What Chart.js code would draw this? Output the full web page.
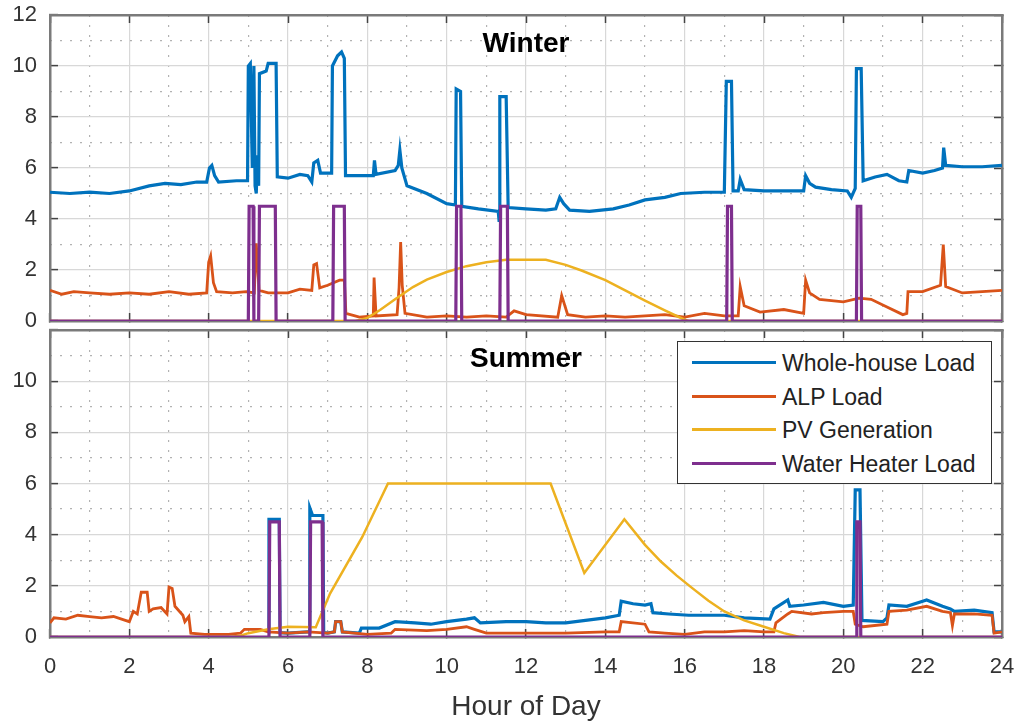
<!DOCTYPE html>
<html>
<head>
<meta charset="utf-8">
<title>Winter / Summer load profiles</title>
<script src="https://cdn.jsdelivr.net/npm/chart.js@4.4.1/dist/chart.umd.min.js"></script>
<style>
  body { margin: 0; background: #fff; font-family: "Liberation Sans", Arial, sans-serif; }
  #wrap { position: relative; width: 1021px; height: 723px; }
  .layer { position: absolute; left: 0; top: 0; width: 1021px; height: 723px; }
  .panelTitle { position: absolute; left: 426px; width: 200px; text-align: center;
    font-weight: bold; font-size: 28px; line-height: 32px; color: #000; }
  #legend { position: absolute; left: 677px; top: 341px; width: 313px; height: 141px;
    border: 1.8px solid #333; background: #fff; }
  .row { position: absolute; left: 0; height: 30px; line-height: 30px; font-size: 23px; color: #222; white-space: nowrap; }
  .row .swatch { position: absolute; left: 14px; top: 13px; width: 84px; height: 0; border-top: 3px solid; }
  .row .txt { position: absolute; left: 104px; top: 0; }
</style>
</head>
<body>
<div id="wrap">
  <div class="layer"><canvas id="summerChart"></canvas></div>
  <div class="layer"><canvas id="winterChart"></canvas></div>
  <div class="panelTitle" style="top:27px">Winter</div>
  <div class="panelTitle" style="top:342px">Summer</div>
  <div id="legend"></div>
</div>
<script>
// series names / colours (MATLAB default order)
const seriesNames = ["Whole-house Load", "ALP Load", "PV Generation", "Water Heater Load"];
const seriesColors = ["#0072BD", "#D95319", "#EDB120", "#7E2F8E"];

const xTicks = [0, 2, 4, 6, 8, 10, 12, 14, 16, 18, 20, 22, 24];
const yTicks = [0, 2, 4, 6, 8, 10, 12];

// ---------- Winter (hour, kW) ----------
const winterHouse = [[0,5.05],[0.5,5.0],[1,5.05],[1.5,5.0],[2,5.1],[2.5,5.3],[2.9,5.4],[3.3,5.35],[3.7,5.45],[3.95,5.45],
  [4.02,6.0],[4.08,6.1],[4.15,5.7],[4.25,5.45],[4.7,5.5],[4.98,5.5],[5.0,10.0],[5.05,10.1],[5.1,6.0],[5.14,10.0],
  [5.17,5.3],[5.2,5.0],[5.23,6.5],[5.26,5.3],[5.28,9.7],[5.45,9.8],[5.5,10.1],[5.7,10.1],[5.73,5.65],[6.0,5.6],
  [6.3,5.75],[6.5,5.7],[6.6,5.45],[6.65,6.2],[6.75,6.3],[6.82,5.8],[7.1,5.8],[7.12,10.0],[7.25,10.4],[7.35,10.55],
  [7.42,10.3],[7.45,5.7],[7.8,5.7],[8.15,5.7],[8.18,6.3],[8.22,5.75],[8.7,5.9],[8.78,6.1],[8.82,6.7],[8.87,6.0],
  [9.0,5.3],[9.5,5.0],[10.0,4.6],[10.22,4.55],[10.24,9.1],[10.35,9.0],[10.38,4.5],[10.8,4.4],[11.3,4.3],[11.32,3.95],
  [11.34,8.8],[11.5,8.8],[11.55,4.45],[12.0,4.4],[12.5,4.35],[12.75,4.4],[12.85,4.85],[12.95,4.6],[13.1,4.35],[13.6,4.3],
  [14.2,4.4],[14.6,4.55],[15.0,4.75],[15.5,4.85],[15.9,5.0],[16.5,5.05],[17.0,5.05],[17.05,9.4],[17.18,9.4],[17.22,5.1],
  [17.35,5.1],[17.4,5.55],[17.5,5.15],[18.0,5.1],[18.6,5.1],[19.0,5.1],[19.05,5.7],[19.15,5.4],[19.3,5.25],[19.7,5.15],
  [20.1,5.1],[20.2,4.85],[20.3,5.2],[20.33,9.9],[20.45,9.9],[20.5,5.5],[20.8,5.65],[21.1,5.75],[21.4,5.5],[21.6,5.45],
  [21.65,5.9],[22.0,5.8],[22.3,5.9],[22.5,6.0],[22.53,6.8],[22.58,6.1],[23.0,6.05],[23.5,6.05],[24,6.1]];

const winterAlp = [[0,1.2],[0.3,1.05],[0.6,1.15],[1.0,1.1],[1.5,1.05],[2.0,1.1],[2.5,1.05],[3.0,1.15],[3.5,1.05],[3.95,1.1],
  [4.0,2.3],[4.05,2.55],[4.12,1.5],[4.2,1.15],[4.6,1.1],[4.95,1.15],[5.15,1.1],[5.2,3.05],[5.27,1.2],[5.5,1.1],
  [6.0,1.1],[6.3,1.25],[6.6,1.2],[6.65,2.2],[6.72,2.25],[6.8,1.3],[7.0,1.4],[7.3,1.6],[7.42,1.6],[7.46,0.3],
  [7.8,0.15],[8.15,0.2],[8.17,1.7],[8.22,0.2],[8.75,0.25],[8.8,1.3],[8.84,3.1],[8.88,1.4],[8.95,0.3],[9.5,0.15],
  [10.0,0.2],[10.5,0.15],[11.0,0.2],[11.5,0.15],[11.7,0.4],[12.0,0.25],[12.8,0.15],[12.9,1.0],[13.05,0.25],[13.5,0.15],
  [14.0,0.2],[14.5,0.15],[15.0,0.2],[15.5,0.25],[16.0,0.15],[16.5,0.3],[17.0,0.2],[17.35,0.2],[17.4,1.35],[17.5,0.6],
  [17.9,0.35],[18.5,0.45],[19.0,0.3],[19.05,1.6],[19.15,1.1],[19.4,0.85],[20.0,0.75],[20.4,0.9],[20.7,0.85],[21.1,0.55],
  [21.5,0.25],[21.6,0.3],[21.63,1.15],[22.0,1.15],[22.45,1.4],[22.52,3.0],[22.58,1.35],[23.0,1.1],[23.5,1.15],[24,1.2]];

const winterPv = [[0,0],[7.7,0],[8.0,0.12],[8.32,0.43],[8.7,0.85],[9.15,1.33],[9.5,1.62],[10.0,1.92],[10.5,2.15],[11.0,2.3],
  [11.5,2.4],[12.5,2.4],[13.0,2.2],[13.4,1.98],[14.0,1.6],[14.5,1.2],[15.0,0.8],[15.5,0.42],[16.0,0.05],[16.1,0],[24,0]];

const winterWh = [[0,0],[5.0,0],[5.02,4.5],[5.12,4.5],[5.14,0],[5.26,0],[5.28,4.5],[5.68,4.5],[5.7,0],[7.13,0],
  [7.15,4.5],[7.42,4.5],[7.44,0],[10.23,0],[10.25,4.5],[10.36,4.5],[10.38,0],[11.34,0],[11.36,4.5],[11.53,4.5],
  [11.55,0],[17.06,0],[17.08,4.5],[17.18,4.5],[17.2,0],[20.33,0],[20.35,4.5],[20.44,4.5],[20.46,0],[24,0]];

// ---------- Summer (hour, kW) ----------
const summerHouse = [[5.5,0.2],[5.52,4.6],[5.78,4.6],[5.8,0.17],[6.0,0.15],[6.5,0.2],[6.53,0.2],[6.55,5.05],[6.62,4.75],[6.88,4.75],
  [6.9,0.17],[7.0,0.15],[7.17,0.2],[7.2,0.6],[7.33,0.6],[7.37,0.2],[7.8,0.15],[7.85,0.35],[8.3,0.35],[8.7,0.6],
  [9.2,0.55],[9.6,0.5],[10.0,0.6],[10.5,0.7],[10.7,0.75],[10.85,0.55],[11.5,0.6],[12.0,0.6],[12.5,0.55],[13.0,0.55],
  [13.5,0.65],[14.0,0.75],[14.35,0.85],[14.4,1.4],[14.7,1.3],[15.0,1.25],[15.15,1.3],[15.2,0.95],[15.6,0.9],[16.1,0.85],
  [16.6,0.85],[17.0,0.85],[17.5,0.75],[18.15,0.7],[18.25,1.1],[18.6,1.45],[18.65,1.2],[19.0,1.25],[19.5,1.35],[20.0,1.2],
  [20.25,1.25],[20.3,5.75],[20.42,5.75],[20.47,0.65],[21.0,0.6],[21.1,0.75],[21.15,1.25],[21.6,1.2],[22.0,1.4],[22.1,1.45],
  [22.5,1.2],[22.7,1.1],[22.8,1.0],[23.3,1.05],[23.75,0.95],[23.8,0.2],[24,0.2]];

const summerAlp = [[0,0.55],[0.1,0.75],[0.4,0.7],[0.7,0.85],[1.0,0.8],[1.3,0.75],[1.6,0.8],[1.9,0.65],[2.0,0.6],[2.1,1.0],
  [2.2,0.9],[2.3,1.75],[2.45,1.75],[2.5,1.0],[2.6,1.1],[2.8,1.15],[2.95,0.9],[3.0,1.95],[3.08,1.9],[3.15,1.2],
  [3.35,0.85],[3.4,0.6],[3.5,0.8],[3.55,0.15],[3.9,0.1],[4.5,0.1],[4.8,0.15],[4.9,0.3],[5.3,0.3],[5.5,0.2],
  [6.0,0.15],[6.5,0.2],[7.0,0.15],[7.17,0.2],[7.2,0.6],[7.33,0.6],[7.37,0.2],[8.0,0.1],[8.6,0.15],[8.7,0.3],
  [9.5,0.25],[10.0,0.3],[10.5,0.4],[10.7,0.3],[11.0,0.15],[12.0,0.15],[13.0,0.15],[14.0,0.2],[14.35,0.2],[14.4,0.6],
  [15.0,0.5],[15.1,0.2],[15.5,0.15],[16.0,0.1],[16.5,0.2],[17.0,0.2],[17.5,0.25],[18.0,0.2],[18.25,0.2],[18.3,0.55],
  [18.6,0.9],[18.7,1.0],[19.2,0.9],[19.5,0.95],[20.0,1.0],[20.25,1.0],[20.3,0.5],[20.5,0.4],[21.1,0.5],[21.15,1.0],
  [21.6,1.05],[22.1,1.2],[22.5,1.0],[22.7,0.95],[22.75,0.45],[22.8,0.9],[23.3,0.9],[23.75,0.85],[23.8,0.15],[24,0.2]];

const summerPv = [[0,0],[4.5,0],[4.8,0.05],[5.0,0.15],[5.5,0.3],[6.0,0.4],[6.7,0.38],[7.06,1.7],[7.87,3.9],[8.52,6.0],
  [12.62,6.0],[13.47,2.5],[14.48,4.6],[15.0,3.6],[15.4,2.95],[15.8,2.4],[16.2,1.9],[16.6,1.42],[17.0,1.0],[17.5,0.65],
  [18.0,0.4],[18.5,0.15],[18.9,0.0],[24,0]];

const summerWh = [[0,0],[5.52,0],[5.54,4.5],[5.78,4.5],[5.8,0],[6.55,0],[6.57,4.5],[6.86,4.5],[6.88,0],[20.32,0],
  [20.34,4.5],[20.42,4.5],[20.44,0],[24,0]];

Chart.defaults.font.family = "'Liberation Sans', Arial, sans-serif";
Chart.defaults.animation = false;

const AXIS_GREY = '#7a7a7a';
const TICK_DARK = '#444';

function toPts(arr) {
    return arr.map(p => ({ x: p[0], y: p[1] }));
}

function makeDatasets(house, alp, pv, wh) {
    const widths = [3.2, 2.8, 2.5, 3.2];
    return [house, alp, pv, wh].map((d, i) => ({
        label: seriesNames[i],
        data: toPts(d),
        borderColor: seriesColors[i],
        backgroundColor: seriesColors[i],
        borderWidth: widths[i],
        pointRadius: 0,
        tension: 0,
        fill: false,
        order: 4 - i   // purple drawn last (on top)
    }));
}

// keep label overflow from shrinking the plot area
function fixX(h) {
    return s => { s.height = h; s.paddingLeft = 0; s.paddingRight = 0; };
}
function fixY(w) {
    return s => { s.width = w; s.paddingTop = 0; s.paddingBottom = 0; };
}

function makeScales(isBottom) {
    const tickCb = arr => function (v) { return arr.includes(v) ? String(v) : ''; };
    const minorColor = c => (c.tick && c.tick.value % 2 === 1) ? 'rgba(0,0,0,0.3)' : 'rgba(0,0,0,0)';
    return {
        x: {
            type: 'linear', position: 'bottom', min: 0, max: 24,
            afterBuildTicks: s => { s.ticks = xTicks.map(v => ({ value: v })); },
            ticks: { display: isBottom, autoSkip: false, maxRotation: 0, padding: 25, color: '#333', font: { size: 22 } },
            grid: { color: '#d8d8d8', lineWidth: 1.2, tickLength: -8, tickColor: TICK_DARK, tickWidth: 1.5 },
            border: { color: AXIS_GREY, width: 2.5 },
            title: { display: isBottom, text: 'Hour of Day', color: '#333', font: { size: 28, lineHeight: 1.1 }, padding: 0 },
            afterFit: fixX(isBottom ? 86 : 0)
        },
        xMinor: {
            type: 'linear', position: 'bottom', min: 0, max: 24,
            ticks: { display: false, stepSize: 1, autoSkip: false },
            grid: { color: minorColor, lineWidth: 1.2, drawTicks: false },
            border: { display: false, dash: [2, 8] },
            afterFit: fixX(0)
        },
        xTop: {
            type: 'linear', position: 'top', min: 0, max: 24,
            afterBuildTicks: s => { s.ticks = xTicks.map(v => ({ value: v })); },
            ticks: { display: false },
            grid: { drawOnChartArea: false, tickLength: -8, tickColor: TICK_DARK, tickWidth: 1.5 },
            border: { color: AXIS_GREY, width: 2.5 },
            afterFit: fixX(0)
        },
        y: {
            type: 'linear', position: 'left', min: 0, max: 12,
            afterBuildTicks: s => { s.ticks = yTicks.map(v => ({ value: v })); },
            ticks: { padding: 21, color: '#333', font: { size: 22 },
                     callback: tickCb(isBottom ? yTicks.slice(0, -1) : yTicks) },
            grid: { color: '#d8d8d8', lineWidth: 1.2, tickLength: -8, tickColor: TICK_DARK, tickWidth: 1.5 },
            border: { color: AXIS_GREY, width: 2.5 },
            afterFit: fixY(50)
        },
        yMinor: {
            type: 'linear', position: 'left', min: 0, max: 12,
            ticks: { display: false, stepSize: 1 },
            grid: { color: minorColor, lineWidth: 1.2, drawTicks: false },
            border: { display: false, dash: [2, 8] },
            afterFit: fixY(0)
        },
        yRight: {
            type: 'linear', position: 'right', min: 0, max: 12,
            afterBuildTicks: s => { s.ticks = yTicks.map(v => ({ value: v })); },
            ticks: { display: false },
            grid: { drawOnChartArea: false, tickLength: -8, tickColor: TICK_DARK, tickWidth: 1.5 },
            border: { color: AXIS_GREY, width: 2.5 },
            afterFit: fixY(0)
        }
    };
}

function makePanel(canvasId, datasets, isBottom) {
    const ctx = document.getElementById(canvasId).getContext('2d');
    return new Chart(ctx, {
        type: 'line',
        data: { datasets: datasets },
        options: {
            responsive: true,
            maintainAspectRatio: false,
            layout: { padding: isBottom ? { left: 0, right: 19, top: 330, bottom: 0 }
                                        : { left: 0, right: 19, top: 15, bottom: 402 } },
            plugins: { legend: { display: false }, tooltip: { enabled: false } },
            scales: makeScales(isBottom)
        }
    });
}

makePanel('summerChart', makeDatasets(summerHouse, summerAlp, summerPv, summerWh), true);
makePanel('winterChart', makeDatasets(winterHouse, winterAlp, winterPv, winterWh), false);

// legend box inside the summer panel
const legend = document.getElementById('legend');
seriesNames.forEach((name, i) => {
    legend.innerHTML += `
        <div class="row" style="top:${6 + i * 33.7}px">
            <span class="swatch" style="border-color:${seriesColors[i]}"></span>
            <span class="txt">${name}</span>
        </div>`;
});
</script>
</body>
</html>
